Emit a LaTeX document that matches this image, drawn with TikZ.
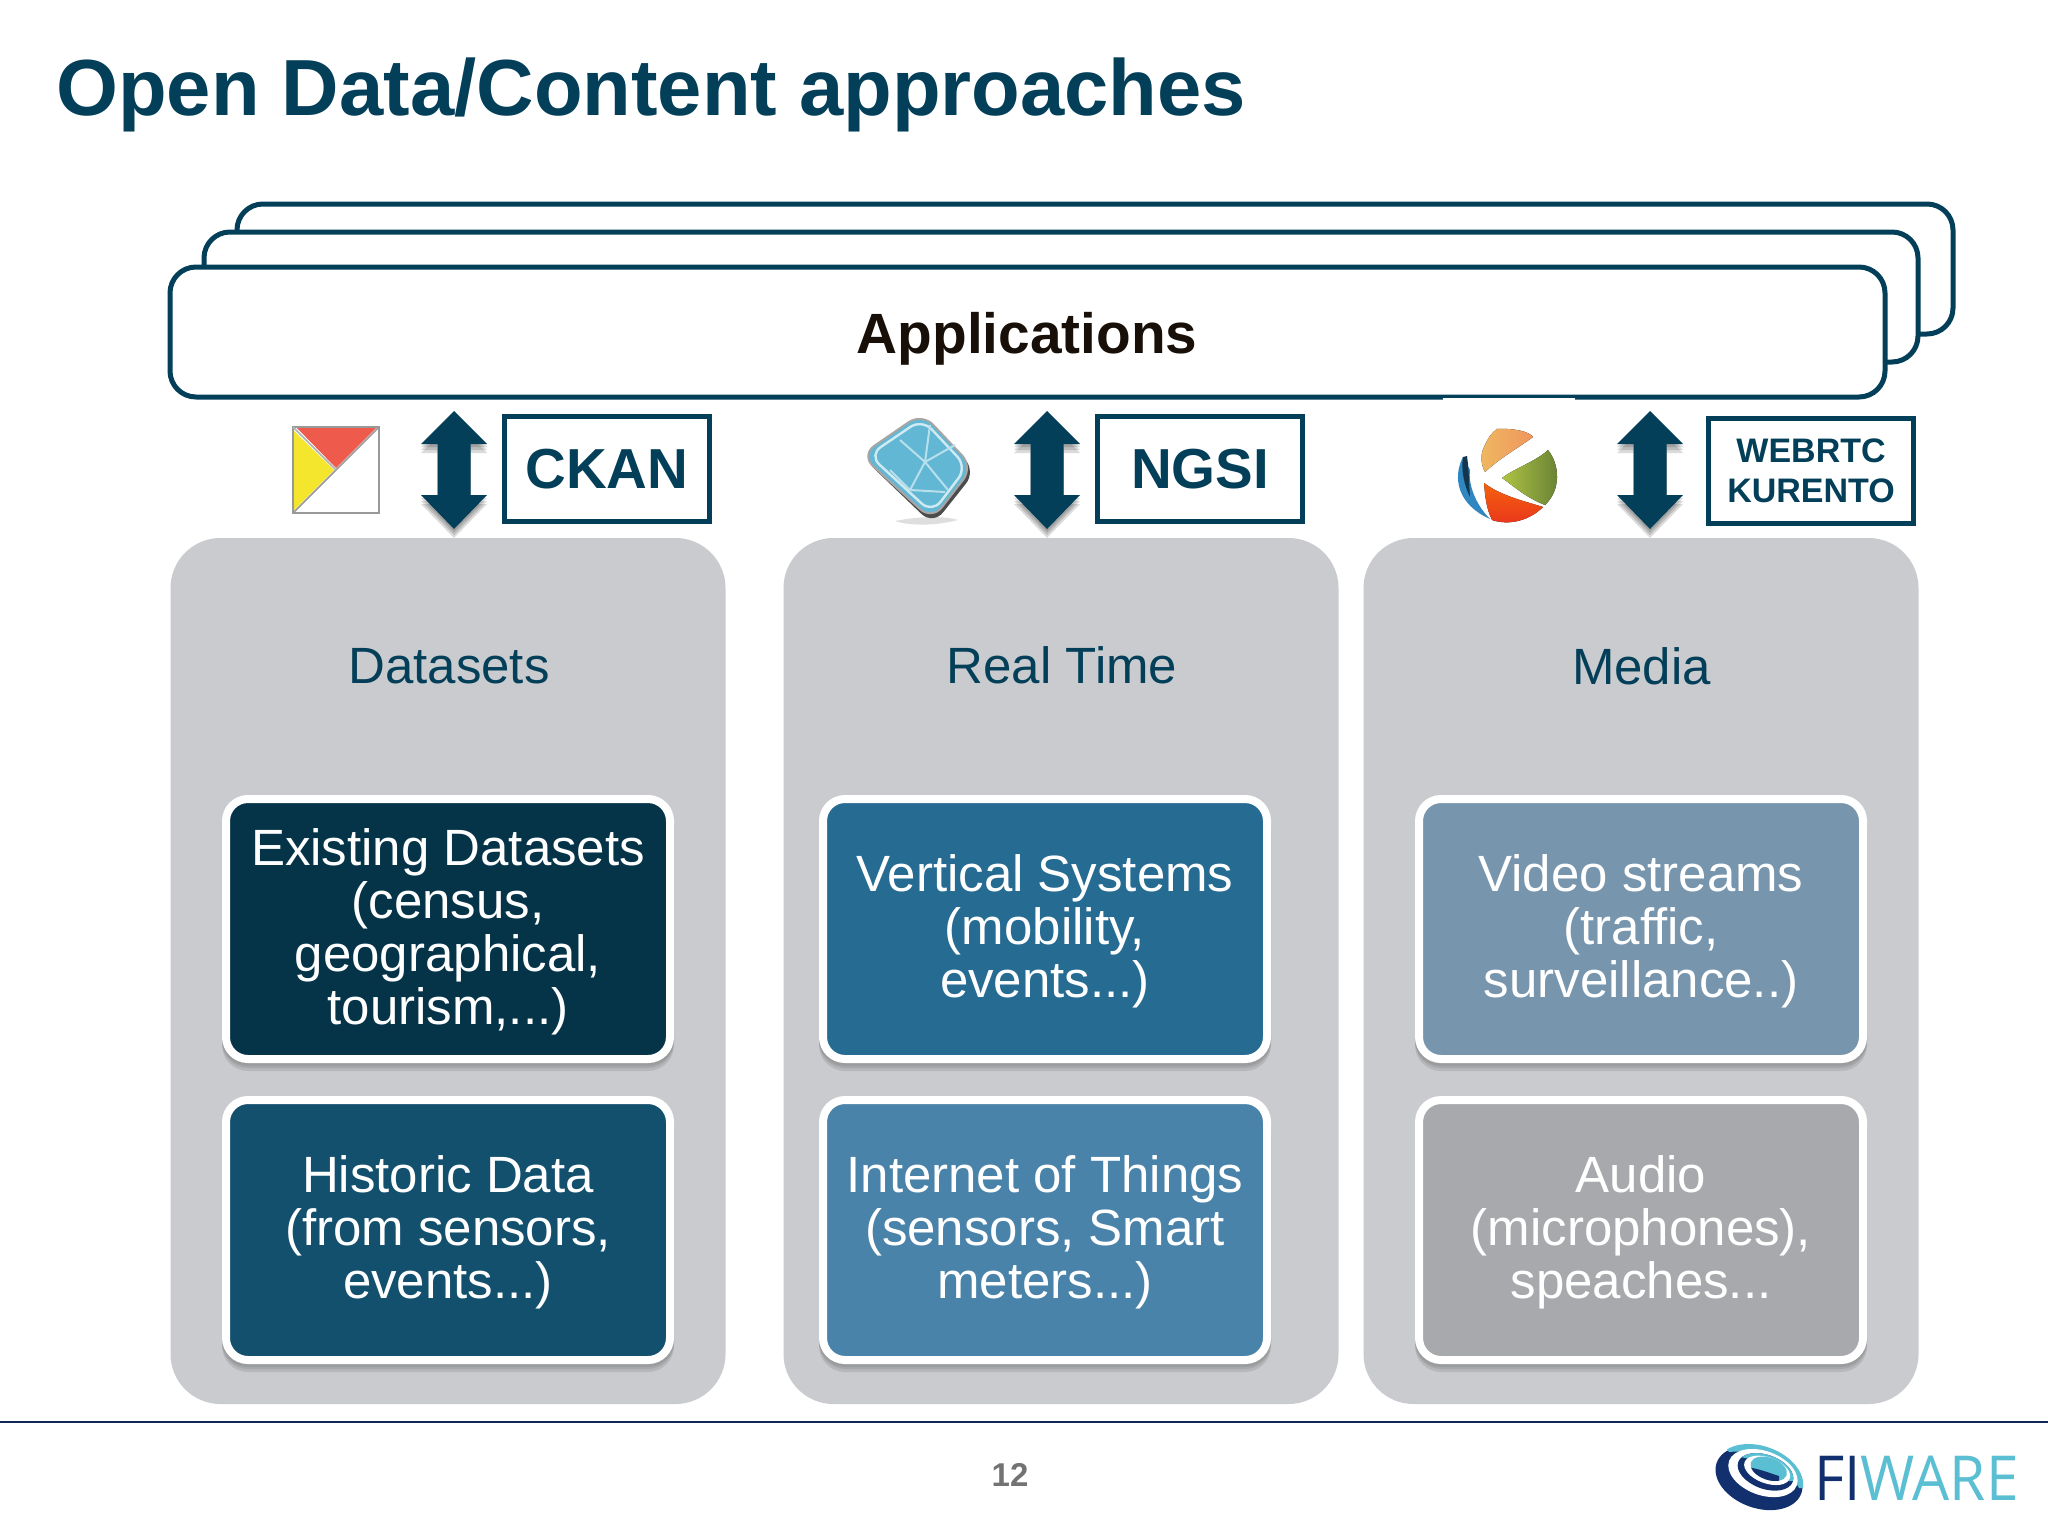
\documentclass[tikz,border=0pt]{standalone}
\usepackage{fontspec}
\setmainfont{Liberation Sans}
\newfontfamily\logofont{Open Sans}
\definecolor{teal}{HTML}{043F59}
\definecolor{panel}{HTML}{CACBCE}
\definecolor{logodark}{HTML}{13306E}
\definecolor{logolight}{HTML}{5BBFD3}
\definecolor{ex}{HTML}{053449}
\definecolor{hi}{HTML}{12506E}
\definecolor{ve}{HTML}{266B92}
\definecolor{io}{HTML}{4A83A9}
\definecolor{vi}{HTML}{7795AD}
\definecolor{au}{HTML}{A8A9AC}
\definecolor{ckred}{HTML}{EE5A4C}
\definecolor{ckyellow}{HTML}{F3E62C}
\definecolor{crystal}{HTML}{62B8D4}
\definecolor{kuorange}{HTML}{EDB06C}
\definecolor{kugreen}{HTML}{7FA042}
\definecolor{kured}{HTML}{E8341E}
\definecolor{kublue}{HTML}{2F86C0}
\tikzset{
  appframe/.style={draw=teal,line width=2.5pt,fill=white,rounded corners=13pt},
  panelbox/.style={fill=panel,rounded corners=25pt,inner sep=0pt,minimum width=277.5pt,minimum height=433pt},
  itembox/.style={draw=white,line width=4pt,rounded corners=11pt,inner sep=0pt,minimum width=222pt,minimum height=130pt},
  itemtext/.style={text=white,align=center,inner sep=0pt,font=\fontsize{25.5}{26.5}\selectfont},
  itemshade/.style={fill=black!55,opacity=.22,rounded corners=13pt,inner sep=0pt,minimum width=226pt,minimum height=134pt},
  tagbox/.style={draw=teal,line width=2.5pt,fill=white,inner sep=0pt,minimum width=102.5pt,minimum height=52.5pt,text=teal,align=center},
  paneltitle/.style={text=teal,font=\fontsize{25.5}{26.5}\selectfont,inner sep=0pt},
  bigarrowfill/.style={fill=teal},
}
\newcommand{\bigarrowpath}[1]{(#1,411) -- ++(33,33) -- ++(-16.5,0) -- ++(0,51) -- ++(16.5,0) -- ++(-33,34) -- ++(-33,-34) -- ++(16.5,0) -- ++(0,-51) -- ++(-16.5,0) -- cycle}
\newcommand{\bigarrow}[1]{%
  \foreach \d in {3,6,9}{\fill[black,opacity=.14,yshift=-\d*.5pt] \bigarrowpath{#1};}
  \fill[bigarrowfill] \bigarrowpath{#1};}
\newcommand{\itemnode}[5]{%
  \node[itembox,fill=#4] (#1) at (#2,#3) {};
  \node[itemtext] (#1t) at (#2,#3+2.6) {#5};}
\begin{document}
\begin{tikzpicture}[x=.5pt,y=-.5pt]
\useasboundingbox (0,0) rectangle (2048,1536);
\fill[white] (0,0) rectangle (2048,1536);

\node[anchor=base west,inner sep=0pt,text=teal,font=\fontsize{39.8}{44}\selectfont\bfseries] (title) at (56,116) {Open Data/Content approaches};

% application frames
\draw[appframe] (237,204) rectangle (1953,334);
\draw[appframe] (204,232) rectangle (1918,362);
\draw[appframe] (170,267) rectangle (1885,397);
\node[font=\fontsize{28.4}{32}\selectfont\bfseries,text=black!88!brown,inner sep=0pt] (apps) at (1027,339) {Applications};
\fill[white] (1443,397.5) rectangle (1575,402);

% panels
\node[panelbox] (p1) at (448,971) {};
\node[panelbox] (p2) at (1061,971) {};
\node[panelbox] (p3) at (1641,971) {};
\node[paneltitle] (t1) at (449,666) {Datasets};
\node[paneltitle] (t2) at (1062,665.5) {Real Time};
\node[paneltitle] (t3) at (1641.5,666) {Media};

% item boxes
\foreach \x in {448,1045,1641}{
  \foreach \y in {929,1230}{
    \foreach \d in {3,5,8}{\node[itemshade] at (\x,\y+\d) {};}
  }
}
\itemnode{a1}{448}{929}{ex}{Existing Datasets\\(census,\\geographical,\\tourism,...)}
\itemnode{a2}{448}{1230}{hi}{Historic Data\\(from sensors,\\events...)}
\itemnode{b1}{1045}{929}{ve}{Vertical Systems\\(mobility,\\events...)}
\itemnode{b2}{1045}{1230}{io}{Internet of Things\\(sensors, Smart\\meters...)}
\itemnode{c1}{1641}{929}{vi}{Video streams\\(traffic,\\surveillance..)}
\itemnode{c2}{1641}{1230}{au}{Audio\\(microphones),\\speaches...}

% tags
\node[tagbox,font=\fontsize{28.2}{32}\selectfont\bfseries] (ckan) at (607,469) {CKAN};
\node[tagbox,font=\fontsize{28.2}{32}\selectfont\bfseries] (ngsi) at (1200,469) {NGSI};
\node[tagbox,font=\fontsize{17}{20}\selectfont\bfseries] (web) at (1811,471) {WEBRTC\\KURENTO};

% double arrows
\bigarrow{454}
\bigarrow{1047}
\bigarrow{1650}

% CKAN icon
\fill[white] (293,427) rectangle (379,513);
\fill[ckred] (296,427) -- (377,427) -- (336,468) -- cycle;
\fill[ckyellow] (293,430) -- (334,470) -- (293,511) -- cycle;
\draw[black!40,line width=.8pt] (293,427) -- (293,513) -- (379,513) -- (379,427) -- cycle;
\draw[black!40,line width=.8pt] (379,427) -- (293,513);
\draw[black!30,line width=.8pt] (293,427) -- (336,470);

% crystal icon
\fill[black!25,opacity=.5] (895,521) .. controls (920,516) and (945,516) .. (958,520) .. controls (935,526) and (910,526) .. (895,521) -- cycle;
\fill[black!70,rounded corners=8pt] (862,457) -- (923,415) -- (976,471) -- (933,525) -- cycle;
\draw[draw=black!35,line width=1pt,fill=crystal,rounded corners=8pt] (861,455) -- (922,413) -- (973,467) -- (932,520) -- cycle;
\draw[white!70!crystal,line width=1.2pt,rounded corners=7pt] (869,455) -- (922,419) -- (967,467) -- (932,513) -- cycle;
\draw[white!55!crystal,line width=1pt] (900,440) -- (925,462) -- (948,490) (925,462) -- (930,425) (925,462) -- (910,490) (925,462) -- (955,445) (890,470) -- (910,490) -- (945,492);

% kurento icon
\fill[left color=kuorange!90!yellow,right color=kuorange!85!red] (1497,429) .. controls (1515,428) and (1530,432) .. (1533,437) .. controls (1515,450) and (1500,458) .. (1485,472) .. controls (1481,465) and (1480,455) .. (1484,447) .. controls (1488,438) and (1492,432) .. (1497,429) -- cycle;
\fill[left color=kugreen!70!yellow!90!white,right color=kugreen!80!black] (1548,450) .. controls (1560,465) and (1561,490) .. (1545,505) .. controls (1525,497) and (1515,487) .. (1502,478) .. controls (1515,468) and (1535,462) .. (1548,450) -- cycle;
\fill[top color=orange!60!kured,bottom color=kured] (1484,483) .. controls (1500,495) and (1520,500) .. (1543,507) .. controls (1530,520) and (1510,526) .. (1492,520) .. controls (1486,508) and (1485,495) .. (1484,483) -- cycle;
\fill[kublue] (1463,457) .. controls (1452,478) and (1458,505) .. (1490,519) .. controls (1476,505) and (1468,485) .. (1470,470) -- cycle;
\fill[kublue!40!black] (1463,457) .. controls (1461,470) and (1464,485) .. (1470,497) .. controls (1469,485) and (1469,470) .. (1467,456) -- cycle;

% footer
\draw[logodark!80!black,line width=1pt] (0,1422) coordinate (fl) -- (2048,1422) coordinate (fr);
\node[text=black!55,font=\fontsize{16.5}{18}\selectfont\bfseries,inner sep=0pt] (page) at (1010,1475) {12};

% FIWARE logo
\begin{scope}[shift={(1759,1478)},rotate=0]
  \fill[logodark,rotate=-20] (0,0) ellipse [x radius=45,y radius=30];
  \begin{scope}
    \clip[rotate=-20] (0,-2) ellipse [x radius=45,y radius=30];
    \fill[logolight] (-45,-45) -- (-30,-26) .. controls (0,-30) and (30,-10) .. (40,10) -- (70,10) -- (70,-45) -- cycle;
  \end{scope}
  \fill[white,rotate=-20] (2,-6) ellipse [x radius=36,y radius=22];
  \fill[logodark,rotate=-20] (4,-8) ellipse [x radius=29,y radius=17];
  \begin{scope}
    \clip[rotate=-20] (4,-8) ellipse [x radius=29,y radius=17];
    \fill[logolight] (-45,-45) -- (-26,-22) .. controls (0,-20) and (20,-5) .. (30,3) -- (60,3) -- (60,-45) -- cycle;
  \end{scope}
  \fill[white,rotate=-20] (5,-10) ellipse [x radius=24,y radius=13];
  \fill[logolight,rotate=-20] (6,-12) ellipse [x radius=19,y radius=11];
  \begin{scope}
    \clip[rotate=-20] (6,-12) ellipse [x radius=19,y radius=11];
    \fill[logodark] (-20,-12) .. controls (0,-10) and (10,-5) .. (20,-2) -- (20,20) -- (-20,20) -- cycle;
  \end{scope}
\end{scope}
\node[anchor=base west,inner sep=0pt,font=\fontsize{31}{34}\selectfont\logofont,xscale=.945] (logo) at (1814,1500) {\textcolor{logodark}{FI}\textcolor{logolight}{WARE}};
\end{tikzpicture}
\end{document}
